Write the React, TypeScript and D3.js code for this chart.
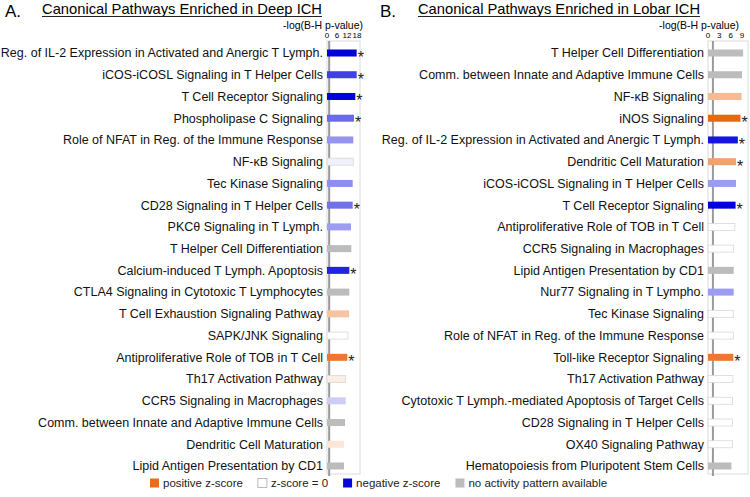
import { useEffect, useRef } from "react";
import * as d3 from "d3";

// panel A: deep ICH
const deepPathways = [
  "Reg. of IL-2 Expression in Activated and Anergic T Lymph.",
  "iCOS-iCOSL Signaling in T Helper Cells",
  "T Cell Receptor Signaling",
  "Phospholipase C Signaling",
  "Role of NFAT in Reg. of the Immune Response",
  "NF-\u03baB Signaling",
  "Tec Kinase Signaling",
  "CD28 Signaling in T Helper Cells",
  "PKC\u03b8 Signaling in T Lymph.",
  "T Helper Cell Differentiation",
  "Calcium-induced T Lymph. Apoptosis",
  "CTLA4 Signaling in Cytotoxic T Lymphocytes",
  "T Cell Exhaustion Signaling Pathway",
  "SAPK/JNK Signaling",
  "Antiproliferative Role of TOB in T Cell",
  "Th17 Activation Pathway",
  "CCR5 Signaling in Macrophages",
  "Comm. between Innate and Adaptive Immune Cells",
  "Dendritic Cell Maturation",
  "Lipid Antigen Presentation by CD1",
];
const deepLogP = [17.8, 17.8, 17.0, 16.2, 15.8, 15.8, 15.4, 15.4, 14.4, 14.6, 13.4, 13.4, 13.2, 12.6, 12.2, 11.2, 11.2, 10.8, 10.2, 10.2];
const deepZ: (number | null)[] = [-3.6, -2.7, -3.6, -2.1, -1.5, -0.2, -1.6, -2.0, -1.4, null, -3.1, null, 1.4, 0, 3.2, 0.4, -0.7, null, 0.6, null];
const deepSig = [1, 1, 1, 1, 0, 0, 0, 1, 0, 0, 1, 0, 0, 0, 1, 0, 0, 0, 0, 0];
const deepTicks = [0, 6, 12, 18];

// panel B: lobar ICH
const lobarPathways = [
  "T Helper Cell Differentiation",
  "Comm. between Innate and Adaptive Immune Cells",
  "NF-\u03baB Signaling",
  "iNOS Signaling",
  "Reg. of IL-2 Expression in Activated and Anergic T Lymph.",
  "Dendritic Cell Maturation",
  "iCOS-iCOSL Signaling in T Helper Cells",
  "T Cell Receptor Signaling",
  "Antiproliferative Role of TOB in T Cell",
  "CCR5 Signaling in Macrophages",
  "Lipid Antigen Presentation by CD1",
  "Nur77 Signaling in T Lympho.",
  "Tec Kinase Signaling",
  "Role of NFAT in Reg. of the Immune Response",
  "Toll-like Receptor Signaling",
  "Th17 Activation Pathway",
  "Cytotoxic T Lymph.-mediated Apoptosis of Target Cells",
  "CD28 Signaling in T Helper Cells",
  "OX40 Signaling Pathway",
  "Hematopoiesis from Pluripotent Stem Cells",
];
const lobarLogP = [9.3, 9.0, 8.9, 8.6, 7.9, 7.4, 7.4, 7.3, 7.1, 6.8, 6.8, 6.8, 6.7, 6.7, 6.7, 6.6, 6.5, 6.5, 6.5, 6.2];
const lobarZ: (number | null)[] = [null, null, 1.6, 3.9, -3.3, 2.2, -1.4, -3.6, 0, 0, null, -1.4, 0, 0, 3.2, 0, 0, 0, 0, null];
const lobarSig = [0, 0, 0, 1, 1, 1, 0, 1, 0, 0, 0, 0, 0, 0, 1, 0, 0, 0, 0, 0];
const lobarTicks = [0, 3, 6, 9];

const legendLabels = ["positive z-score", "z-score = 0", "negative z-score", "no activity pattern available"];
const legendZ: (number | null)[] = [3.5, 0, -3.5, null];

const FONT = "'Liberation Sans', Arial, sans-serif";
const BLUE = "#0000dc";
const ORANGE = "#ea6710";
const GRAY = "#bcbcbc";
const THRESHOLD = 1.3; // -log10(0.05)

function zColor(z: number | null) {
  if (z === null) return GRAY;
  const t = Math.min(Math.abs(z) / 3.6, 1);
  return z < 0 ? d3.interpolateRgb("#ffffff", BLUE)(t) : d3.interpolateRgb("#ffffff", ORANGE)(t);
}

type PanelOpts = {
  letter: string;
  title: string;
  letterX: number;
  titleX: number;
  titleEnd: number;
  labelRight: number;
  axisLabelEnd: number;
  x0: number;
  x1: number;
  boxRight: number;
  maxVal: number;
  ticks: number[];
  pathways: string[];
  values: number[];
  z: (number | null)[];
  sig: number[];
};

function drawPanel(svg: d3.Selection<SVGSVGElement, unknown, null, undefined>, o: PanelOpts) {
  const g = svg.append("g").attr("font-family", FONT);

  g.append("text").attr("x", o.letterX).attr("y", 17).attr("font-size", 17).text(o.letter);
  g.append("text")
    .attr("x", o.titleX).attr("y", 14).attr("font-size", 15)
    .attr("textLength", o.titleEnd - o.titleX).attr("lengthAdjust", "spacingAndGlyphs")
    .text(o.title);
  g.append("line")
    .attr("x1", o.titleX).attr("x2", o.titleEnd)
    .attr("y1", 16.5).attr("y2", 16.5)
    .attr("stroke", "#222").attr("stroke-width", 1);

  const x = d3.scaleLinear().domain([0, o.maxVal]).range([o.x0, o.x1]);
  const y = d3.scalePoint<number>().domain(d3.range(o.pathways.length)).range([53, 466]);

  const top = 41, bottom = 474;

  g.append("text")
    .attr("x", o.axisLabelEnd).attr("y", 29)
    .attr("text-anchor", "end").attr("font-size", 10.5)
    .text("-log(B-H p-value)");

  g.selectAll(".tick")
    .data(o.ticks)
    .join("text")
    .attr("x", (d) => x(d))
    .attr("y", 37.5)
    .attr("text-anchor", "middle")
    .attr("font-size", 8)
    .text((d) => d);

  g.append("rect")
    .attr("x", o.x0).attr("y", top)
    .attr("width", o.boxRight - o.x0).attr("height", bottom - top)
    .attr("fill", "none").attr("stroke", "#dcdcdc").attr("stroke-width", 1);

  g.append("line")
    .attr("x1", x(THRESHOLD)).attr("x2", x(THRESHOLD))
    .attr("y1", top).attr("y2", bottom + 2)
    .attr("stroke", "#9a9a9a").attr("stroke-width", 2);

  const rows = g.selectAll(".row").data(d3.range(o.pathways.length)).join("g");

  rows.append("text")
    .attr("x", o.labelRight)
    .attr("y", (i) => y(i)!)
    .attr("dy", "0.35em")
    .attr("text-anchor", "end")
    .attr("font-size", 12.5)
    .attr("fill", "#111")
    .text((i) => o.pathways[i]);

  rows.append("rect")
    .attr("x", x(0))
    .attr("y", (i) => y(i)! - 3.5)
    .attr("width", (i) => x(o.values[i]) - x(0))
    .attr("height", 7)
    .attr("fill", (i) => zColor(o.z[i]))
    .attr("stroke", (i) => (o.z[i] !== null && Math.abs(o.z[i]!) < 0.5 ? "#d8d8d8" : "none"))
    .attr("stroke-width", 0.8);

  rows.filter((i) => o.sig[i] === 1)
    .append("text")
    .attr("x", (i) => x(o.values[i]) + 1)
    .attr("y", (i) => y(i)! + 10)
    .attr("font-size", 16)
    .attr("fill", "#222")
    .text("*");
}

export default function App() {
  const ref = useRef<SVGSVGElement>(null);

  useEffect(() => {
    const svg = d3.select(ref.current!);
    svg.selectAll("*").remove();

    drawPanel(svg, {
      letter: "A.", title: "Canonical Pathways Enriched in Deep ICH",
      letterX: 5, titleX: 42, titleEnd: 322, labelRight: 323, axisLabelEnd: 363,
      x0: 327, x1: 357, boxRight: 360, maxVal: 18, ticks: deepTicks,
      pathways: deepPathways, values: deepLogP, z: deepZ, sig: deepSig,
    });
    drawPanel(svg, {
      letter: "B.", title: "Canonical Pathways Enriched in Lobar ICH",
      letterX: 380, titleX: 418, titleEnd: 700, labelRight: 704, axisLabelEnd: 739,
      x0: 708, x1: 742, boxRight: 748, maxVal: 9, ticks: lobarTicks,
      pathways: lobarPathways, values: lobarLogP, z: lobarZ, sig: lobarSig,
    });

    // legend
    const lg = svg.append("g").attr("font-family", FONT).attr("font-size", 11.5);
    let cx = 150;
    legendLabels.forEach((lab, i) => {
      lg.append("rect")
        .attr("x", cx).attr("y", 478.5).attr("width", 9).attr("height", 9)
        .attr("fill", zColor(legendZ[i]))
        .attr("stroke", legendZ[i] === 0 ? "#aaa" : "none").attr("stroke-width", 0.8);
      const t = lg.append("text").attr("x", cx + 13).attr("y", 487).attr("fill", "#222").text(lab);
      const w = (t.node() as SVGTextElement).getComputedTextLength();
      cx += 13 + w + 15;
    });
  }, []);

  return (
    <svg
      ref={ref}
      width={750}
      height={497}
      style={{ position: "absolute", left: 0, top: 0, background: "#fff" }}
    />
  );
}
